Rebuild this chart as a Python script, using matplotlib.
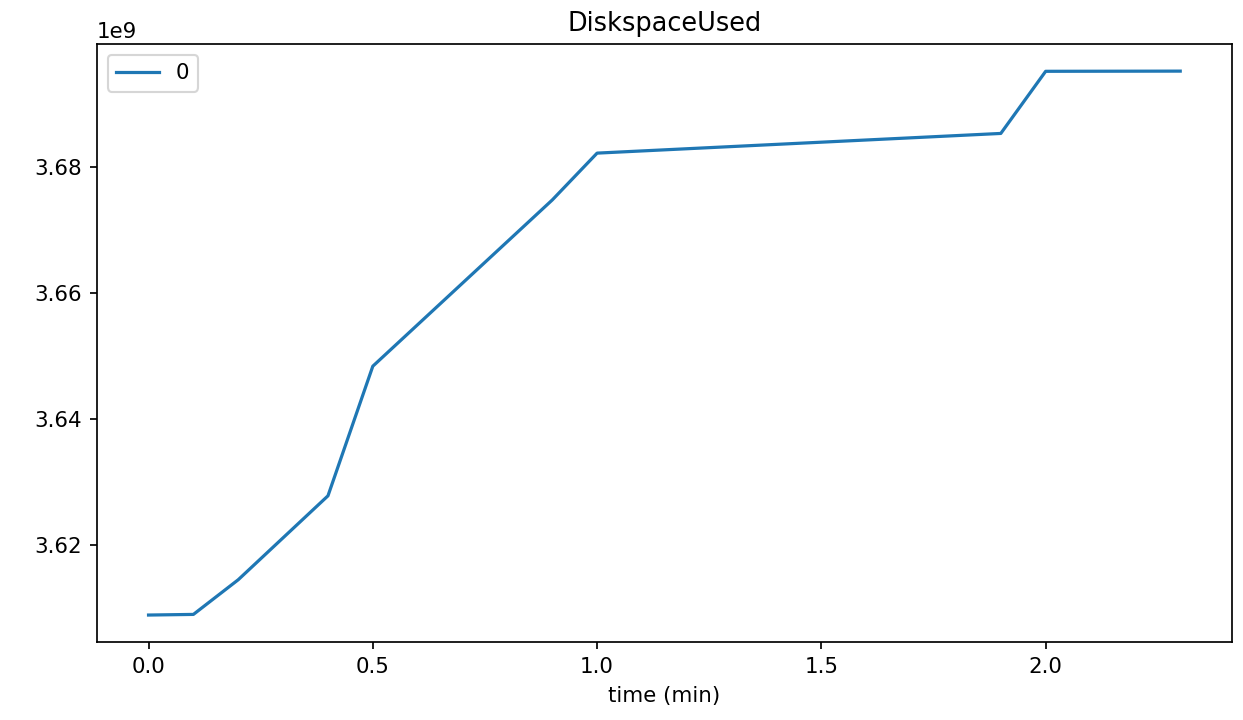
import matplotlib
matplotlib.use("Agg")
import matplotlib.pyplot as plt

# tiempo en minutos y espacio en disco usado (bytes)
time_min = [0.0, 0.1, 0.2, 0.4, 0.5, 0.9, 1.0, 1.9, 2.0, 2.3]
disk_used = [3.60895e9, 3.60905e9, 3.61455e9, 3.62785e9, 3.6484e9,
             3.67475e9, 3.68218e9, 3.68530e9, 3.69515e9, 3.69518e9]

dpi = 154
fig, ax = plt.subplots(figsize=(1243 / dpi, 720 / dpi), dpi=dpi)
fig.subplots_adjust(left=0.078, right=0.991, top=0.939, bottom=0.108)

ax.plot(time_min, disk_used, color='#1f77b4', linewidth=1.5, label='0')
ax.set_title('DiskspaceUsed')
ax.set_xlabel('time (min)')
ax.legend(loc='upper left')

fig.savefig('out.png', dpi=dpi)
